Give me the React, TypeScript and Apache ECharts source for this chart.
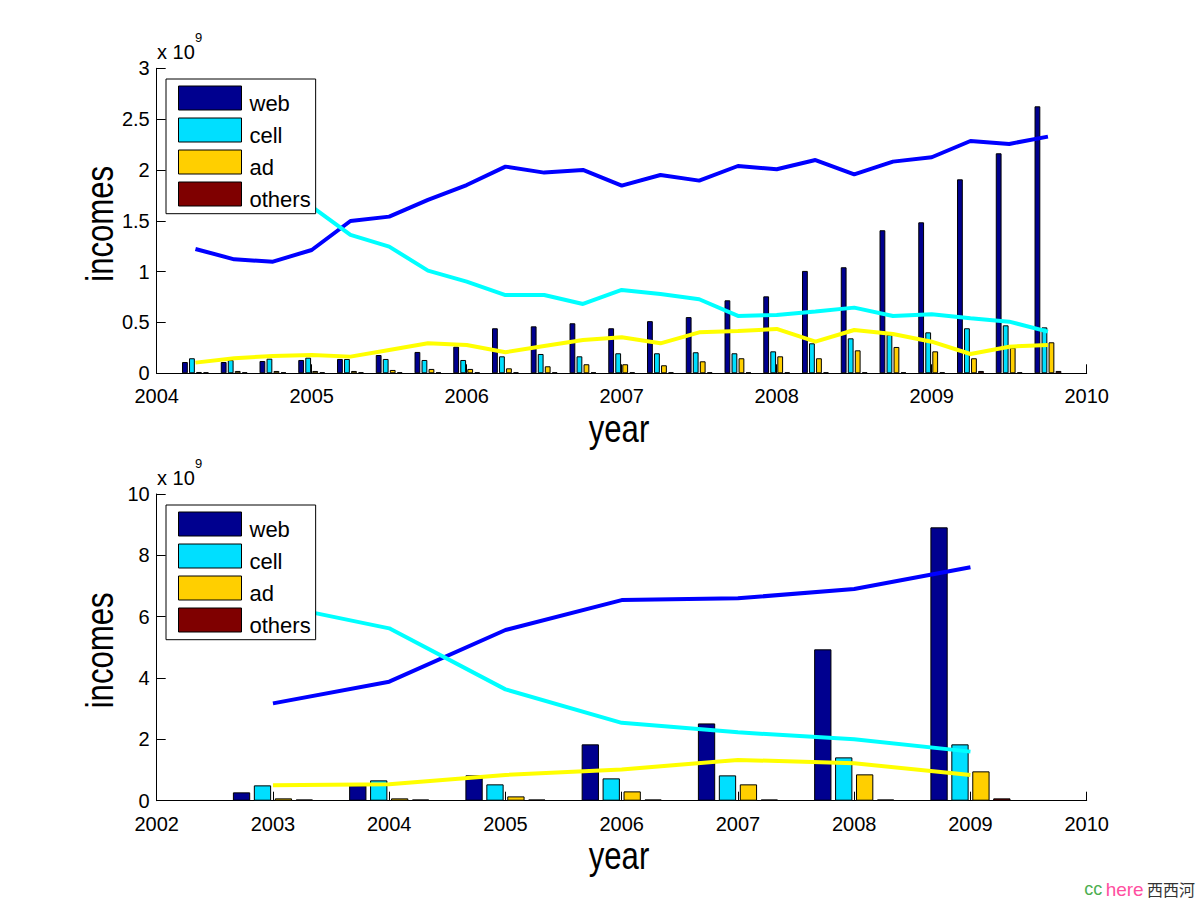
import React, { useEffect, useRef } from 'react';
import * as echarts from 'echarts';

// ---------- top panel: quarterly data (units of 1e9) ----------
const quarters = [
  2004.25, 2004.5, 2004.75, 2005, 2005.25, 2005.5, 2005.75, 2006,
  2006.25, 2006.5, 2006.75, 2007, 2007.25, 2007.5, 2007.75, 2008,
  2008.25, 2008.5, 2008.75, 2009, 2009.25, 2009.5, 2009.75,
];
const webQ = [0.111, 0.111, 0.121, 0.131, 0.141, 0.18, 0.21, 0.262, 0.443, 0.462, 0.492, 0.443, 0.513, 0.553, 0.718, 0.757, 1.007, 1.043, 1.407, 1.485, 1.908, 2.164, 2.626];
const cellQ = [0.148, 0.13, 0.144, 0.154, 0.141, 0.141, 0.131, 0.131, 0.167, 0.19, 0.167, 0.197, 0.197, 0.207, 0.197, 0.216, 0.295, 0.344, 0.38, 0.403, 0.443, 0.472, 0.452];
const adQ = [0.013, 0.023, 0.023, 0.023, 0.023, 0.033, 0.043, 0.043, 0.049, 0.069, 0.089, 0.089, 0.079, 0.118, 0.148, 0.167, 0.148, 0.226, 0.259, 0.216, 0.148, 0.252, 0.305];
const othersQ = [0.01, 0.01, 0.01, 0.01, 0.01, 0.01, 0.01, 0.01, 0.01, 0.01, 0.01, 0.01, 0.01, 0.01, 0.01, 0.01, 0.01, 0.01, 0.01, 0.01, 0.023, 0.01, 0.023];
const webLineQ = [1.223, 1.121, 1.098, 1.213, 1.498, 1.541, 1.705, 1.852, 2.033, 1.974, 2.0, 1.846, 1.951, 1.895, 2.039, 2.007, 2.098, 1.957, 2.082, 2.125, 2.285, 2.256, 2.328];
const cellLineQ = [1.67, 1.75, 1.75, 1.64, 1.361, 1.246, 1.01, 0.902, 0.77, 0.77, 0.682, 0.82, 0.78, 0.728, 0.564, 0.574, 0.607, 0.646, 0.564, 0.58, 0.541, 0.508, 0.41];
const adLineQ = [0.105, 0.148, 0.17, 0.18, 0.164, 0.23, 0.295, 0.279, 0.207, 0.269, 0.328, 0.354, 0.295, 0.403, 0.416, 0.436, 0.311, 0.426, 0.387, 0.311, 0.19, 0.262, 0.279];

// ---------- bottom panel: yearly data (units of 1e9) ----------
const years = [2003, 2004, 2005, 2006, 2007, 2008, 2009];
const webY = [0.272, 0.5, 0.826, 1.837, 2.52, 4.935, 8.913];
const cellY = [0.5, 0.663, 0.533, 0.728, 0.826, 1.413, 1.837];
const adY = [0.076, 0.076, 0.141, 0.304, 0.533, 0.859, 0.957];
const othersY = [0.04, 0.04, 0.04, 0.04, 0.04, 0.04, 0.076];
const webLineY = [3.174, 3.88, 5.565, 6.54, 6.6, 6.9, 7.61];
const cellLineY = [6.4, 5.62, 3.63, 2.54, 2.23, 2.0, 1.6];
const adLineY = [0.5, 0.54, 0.84, 1.02, 1.33, 1.22, 0.84];

const legendNames = ['web', 'cell', 'ad', 'others'];
const xName = 'year';
const yName = 'incomes';

const C_WEB = '#00008F';
const C_CELL = '#00DFFF';
const C_AD = '#FFCF00';
const C_OTH = '#7F0000';
const L_WEB = '#0000FF';
const L_CELL = '#00FFFF';
const L_AD = '#FFFF00';

const FONT = 'Liberation Sans';

const G = [
  { left: 156.7, top: 68.3, width: 930, height: 305 },
  { left: 156.7, top: 494, width: 930, height: 306.7 },
];

function pairs(xs: number[], ys: number[]) {
  return xs.map((x, i) => [x, ys[i]]);
}

function bar(name: string, color: string, xs: number[], ys: number[], idx: number, w: number) {
  return {
    type: 'bar',
    name,
    xAxisIndex: idx,
    yAxisIndex: idx,
    data: pairs(xs, ys),
    barWidth: w,
    barGap: '21%',
    itemStyle: { color, borderColor: '#000', borderWidth: 1 },
    emphasis: { disabled: true },
    silent: true,
    z: 2,
  };
}

function line(name: string, color: string, xs: number[], ys: number[], idx: number) {
  return {
    type: 'line',
    name,
    xAxisIndex: idx,
    yAxisIndex: idx,
    data: pairs(xs, ys),
    showSymbol: false,
    symbol: 'none',
    lineStyle: { color, width: 4 },
    itemStyle: { color },
    emphasis: { disabled: true },
    silent: true,
    z: 3,
  };
}

function xAxis(idx: number, min: number, max: number) {
  return {
    type: 'value',
    gridIndex: idx,
    min,
    max,
    interval: 1,
    axisLine: { show: true, onZero: false, lineStyle: { color: '#000', width: 1 } },
    axisTick: { show: true, inside: true, length: 9, lineStyle: { color: '#000' } },
    axisLabel: { color: '#000', fontSize: 20, fontFamily: FONT, margin: 13, formatter: (v: number) => String(v) },
    splitLine: { show: false },
  };
}

function yAxis(idx: number, max: number, interval: number) {
  return {
    type: 'value',
    gridIndex: idx,
    min: 0,
    max,
    interval,
    axisLine: { show: true, lineStyle: { color: '#000', width: 1 } },
    axisTick: { show: true, inside: true, length: 9, lineStyle: { color: '#000' } },
    axisLabel: { color: '#000', fontSize: 20, fontFamily: FONT, margin: 7 },
    splitLine: { show: false },
  };
}

function legend(top: number) {
  return {
    data: legendNames,
    orient: 'vertical',
    left: 166,
    top,
    itemWidth: 63,
    itemHeight: 24,
    itemGap: 0,
    padding: [3, 5, 3.7, 12],
    borderColor: '#000',
    borderWidth: 1,
    borderRadius: 0,
    backgroundColor: '#fff',
    icon: 'rect',
    selectedMode: false,
    itemStyle: { borderColor: '#000', borderWidth: 1 },
    formatter: '{t|{name}}',
    textStyle: {
      fontSize: 22,
      fontFamily: FONT,
      color: '#000',
      rich: {
        t: { fontSize: 22, fontFamily: FONT, color: '#000', lineHeight: 22, padding: [10, 0, 0, 3] },
      },
    },
    z: 10,
  };
}

function panelTexts(g: { left: number; top: number; width: number; height: number }) {
  const bottom = g.top + g.height;
  const midY = g.top + g.height / 2 + 3;
  return [
    {
      type: 'text',
      x: 157,
      y: g.top - 15.9,
      style: { text: 'x 10', fill: '#000', font: `20px ${FONT}`, verticalAlign: 'middle' },
      z: 20,
    },
    {
      type: 'text',
      x: 195,
      y: g.top - 31,
      style: { text: '9', fill: '#000', font: `13px ${FONT}`, verticalAlign: 'middle' },
      z: 20,
    },
    {
      type: 'text',
      x: 619,
      y: bottom + 55.2,
      scaleX: 0.82,
      style: { text: xName, fill: '#000', font: `38px ${FONT}`, align: 'center', verticalAlign: 'middle' },
      z: 20,
    },
    {
      type: 'text',
      x: 99.8,
      y: midY,
      rotation: Math.PI / 2,
      scaleX: 0.82,
      style: { text: yName, fill: '#000', font: `38px ${FONT}`, align: 'center', verticalAlign: 'middle' },
      z: 20,
    },
  ];
}

function buildOption() {
  return {
    animation: false,
    backgroundColor: '#fff',
    grid: G,
    xAxis: [xAxis(0, 2004, 2010), xAxis(1, 2002, 2010)],
    yAxis: [yAxis(0, 3, 0.5), yAxis(1, 10, 2)],
    legend: [legend(79), legend(505)],
    series: [
      bar('web', C_WEB, quarters, webQ, 0, 5.8),
      bar('cell', C_CELL, quarters, cellQ, 0, 5.8),
      bar('ad', C_AD, quarters, adQ, 0, 5.8),
      bar('others', C_OTH, quarters, othersQ, 0, 5.8),
      line('web share', L_WEB, quarters, webLineQ, 0),
      line('cell share', L_CELL, quarters, cellLineQ, 0),
      line('ad share', L_AD, quarters, adLineQ, 0),
      bar('web', C_WEB, years, webY, 1, 17.3),
      bar('cell', C_CELL, years, cellY, 1, 17.3),
      bar('ad', C_AD, years, adY, 1, 17.3),
      bar('others', C_OTH, years, othersY, 1, 17.3),
      line('web share', L_WEB, years, webLineY, 1),
      line('cell share', L_CELL, years, cellLineY, 1),
      line('ad share', L_AD, years, adLineY, 1),
    ],
    graphic: [
      ...panelTexts(G[0]),
      ...panelTexts(G[1]),
      {
        type: 'text',
        x: 1195,
        y: 889,
        style: {
          text: '{g|cc} {p|here} {c|西西河}',
          align: 'right',
          verticalAlign: 'middle',
          rich: {
            g: { fill: '#4CAF50', fontSize: 18, fontFamily: FONT },
            p: { fill: '#FF4FA0', fontSize: 19, fontFamily: FONT },
            c: { fill: '#333333', fontSize: 16, fontFamily: "'Noto Sans CJK SC'" },
          },
        },
        z: 20,
      },
    ],
  };
}

export default function App() {
  const ref = useRef<HTMLDivElement>(null);
  useEffect(() => {
    if (!ref.current) return;
    const chart = echarts.init(ref.current, undefined, { renderer: 'svg' });
    chart.setOption(buildOption() as any);
    return () => chart.dispose();
  }, []);
  return (
    <div
      ref={ref}
      style={{ position: 'fixed', left: 0, top: 0, width: 1200, height: 900, background: '#fff' }}
    />
  );
}
